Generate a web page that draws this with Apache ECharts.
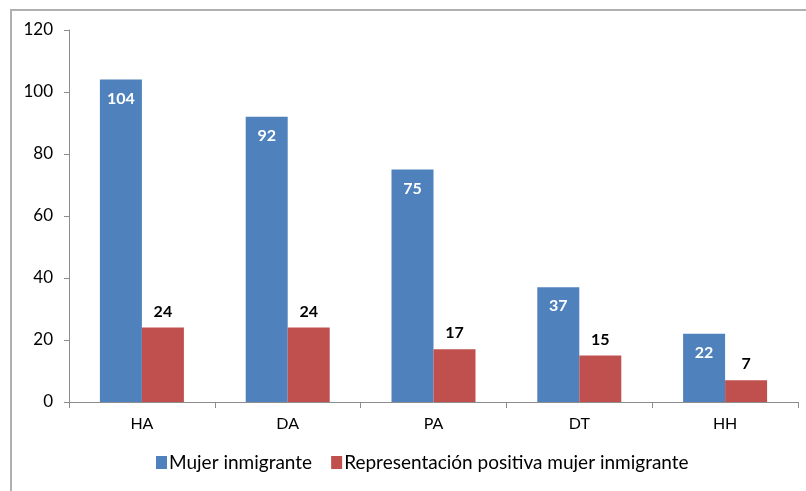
<!DOCTYPE html>
<html><head><meta charset="utf-8">
<script src="https://cdn.jsdelivr.net/npm/echarts@6/dist/echarts.min.js"></script>
<style>
html,body{margin:0;padding:0;background:#fff;overflow:hidden}
#frame{position:absolute;left:10px;top:9px;width:900px;height:600px;border:2px solid #b0b0b0;box-sizing:border-box}
#c{position:absolute;left:0;top:0;width:806px;height:491px}
</style></head>
<body>
<div id="frame"></div>
<div id="c"></div>
<script>
const categories = ['HA','DA','PA','DT','HH'];
const mujerInmigrante = [104, 92, 75, 37, 22];
const representacionPositiva = [24, 24, 17, 15, 7];
const seriesNames = ['Mujer inmigrante','Representación positiva mujer inmigrante'];
const yTicks = {min:0, max:120, interval:20};

const font = 'Lato, "Open Sans", sans-serif';
const chart = echarts.init(document.getElementById('c'));
chart.setOption({
  animation:false,
  grid:{left:69,right:8,top:30,bottom:89},
  legend:{
    bottom:14,left:151,itemGap:19,itemWidth:11,itemHeight:13,
    icon:'rect',
    textStyle:{fontFamily:font,fontSize:19,color:'#000',padding:[0,0,0,-3]},
    data:seriesNames
  },
  xAxis:{
    type:'category',data:categories,
    axisLine:{lineStyle:{color:'#8c8c8c',width:1}},
    axisTick:{show:true,alignWithLabel:false,length:6,lineStyle:{color:'#8c8c8c'}},
    axisLabel:{fontFamily:font,fontSize:16,color:'#000',margin:14}
  },
  yAxis:{
    type:'value',min:yTicks.min,max:yTicks.max,interval:yTicks.interval,
    axisLine:{show:true,lineStyle:{color:'#8c8c8c',width:1}},
    axisTick:{show:true,length:5,lineStyle:{color:'#8c8c8c'}},
    splitLine:{show:false},
    axisLabel:{fontFamily:font,fontSize:17,color:'#000',margin:16}
  },
  series:[
    {name:seriesNames[0],type:'bar',data:mujerInmigrante,barWidth:42,barGap:'0%',
     itemStyle:{color:'#4F81BD'},
     label:{show:true,position:'insideTop',distance:11,color:'#fff',fontWeight:'bold',fontFamily:font,fontSize:16}},
    {name:seriesNames[1],type:'bar',data:representacionPositiva,barWidth:42,
     itemStyle:{color:'#C0504D'},
     label:{show:true,position:'top',distance:8,color:'#000',fontWeight:'bold',fontFamily:font,fontSize:16}}
  ]
});
</script>
</body></html>
